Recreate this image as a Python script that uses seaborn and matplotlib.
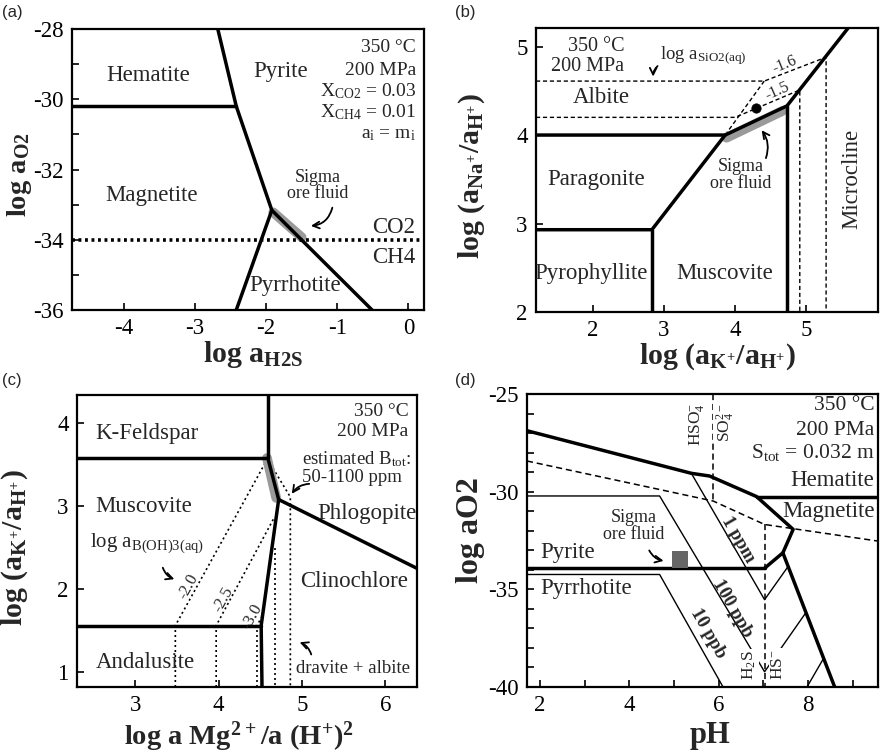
import matplotlib
matplotlib.use("Agg")
import matplotlib.pyplot as plt
from matplotlib.ticker import MultipleLocator
import seaborn as sns

# ---------------- data ----------------
# (a) log aO2 vs log aH2S
a_xlim = (-4.73, 0.22)
a_ylim = (-36.0, -28.0)
a_xticks = [-4, -3, -2, -1, 0]
a_yticks = [-36, -34, -32, -30, -28]
a_hem_x = [-4.73, -2.42]
a_hem_y = [-30.2, -30.2]
a_py_x = [-2.68, -2.42, -1.92, -0.51]
a_py_y = [-28.0, -30.2, -33.16, -36.0]
a_po_x = [-1.92, -2.42]
a_po_y = [-33.16, -36.0]
a_redox_x = [-4.73, 0.22]
a_redox_y = [-34.0, -34.0]
a_sigma_x = [-1.90, -1.50]
a_sigma_y = [-33.22, -33.93]

# (b) log(aNa+/aH+) vs log(aK+/aH+)
b_xlim = (1.2, 6.01)
b_ylim = (2.0, 5.21)
b_xticks = [2, 3, 4, 5]
b_yticks = [2, 3, 4, 5]
b_ab_x = [1.2, 3.86, 4.73, 5.59]
b_ab_y = [4.0, 4.0, 4.33, 5.21]
b_pg_x = [1.2, 2.83, 3.86]
b_pg_y = [2.93, 2.93, 4.0]
b_prl_x = [2.83, 2.83]
b_prl_y = [2.0, 2.93]
b_mc_x = [4.73, 4.73]
b_mc_y = [2.0, 4.33]
b_si16_x = [1.2, 4.41, 5.28, 5.28]
b_si16_y = [4.61, 4.61, 4.88, 2.0]
b_si15_x = [1.2, 4.0, 4.91, 4.91]
b_si15_y = [4.20, 4.20, 4.51, 2.0]
b_abpg_x = [3.86, 4.41]
b_abpg_y = [4.0, 4.61]
b_sigma_x = [3.88, 4.66]
b_sigma_y = [3.97, 4.27]
b_dot_x = [4.30]
b_dot_y = [4.31]

# (c) log(aK+/aH+) vs log aMg2+/a(H+)2
c_xlim = (2.30, 6.38)
c_ylim = (0.82, 4.34)
c_xticks = [3, 4, 5, 6]
c_yticks = [1, 2, 3, 4]
c_kfs_x = [2.30, 4.59, 4.59]
c_kfs_y = [3.58, 3.58, 4.34]
c_phl_x = [4.59, 4.72, 6.38]
c_phl_y = [3.58, 3.08, 2.25]
c_chl_x = [4.72, 4.51, 4.52]
c_chl_y = [3.08, 1.56, 0.82]
c_and_x = [2.30, 4.51]
c_and_y = [1.56, 1.56]
c_b20_x = [3.48, 3.48, 4.58]
c_b20_y = [0.82, 1.56, 3.56]
c_b25_x = [3.97, 3.97, 4.66]
c_b25_y = [0.82, 1.56, 2.85]
c_b30_x = [4.46, 4.46, 4.53]
c_b30_y = [0.82, 1.56, 1.69]
c_drv1_x = [4.68, 4.68]
c_drv1_y = [2.50, 0.82]
c_drv2_x = [4.62, 4.86, 4.86]
c_drv2_y = [3.51, 3.11, 0.82]
c_sigma_x = [4.58, 4.69]
c_sigma_y = [3.58, 3.10]

# (d) log aO2 vs pH
d_xlim = (1.71, 9.57)
d_ylim = (-40.0, -25.0)
d_xticks = [2, 4, 6, 8]
d_yticks = [-40, -35, -30, -25]
d_upper_x = [1.71, 5.39, 5.80, 6.85, 7.67, 7.44, 7.03]
d_upper_y = [-26.88, -29.06, -29.20, -30.25, -31.93, -33.13, -33.92]
d_hem_x = [6.85, 9.57]
d_hem_y = [-30.25, -30.25]
d_pypo_x = [1.71, 7.03]
d_pypo_y = [-33.92, -33.92]
d_pomag_x = [7.44, 8.60]
d_pomag_y = [-33.13, -40.0]
d_1ppm_x = [5.39, 7.03, 7.56]
d_1ppm_y = [-29.06, -35.53, -33.82]
d_100ppb_x = [1.71, 4.68, 7.03, 7.95]
d_100ppb_y = [-30.22, -30.22, -39.22, -36.21]
d_10ppb_x = [1.71, 4.68, 6.10]
d_10ppb_y = [-34.24, -34.24, -40.0]
d_10ppb_hs_x = [7.98, 8.36]
d_10ppb_hs_y = [-40.0, -38.5]
d_sulf_x = [1.71, 5.88, 7.03, 9.57]
d_sulf_y = [-28.43, -30.48, -31.68, -32.53]
d_hso4_x = [5.88, 5.88]
d_hso4_y = [-25.0, -30.48]
d_h2s_x = [7.03, 7.03]
d_h2s_y = [-31.68, -40.0]
d_sigma_x = [4.96, 5.32]
d_sigma_lo = [-33.90, -33.90]
d_sigma_hi = [-33.05, -33.05]

# ---------------- style ----------------
sns.set_theme(style="ticks")
SERIF = ["Liberation Serif", "DejaVu Serif"]
plt.rcParams["font.family"] = SERIF
plt.rcParams["mathtext.default"] = "regular"
plt.rcParams["axes.unicode_minus"] = False
plt.rcParams["axes.linewidth"] = 1.6
plt.rcParams["axes.edgecolor"] = "black"

TICK = 16.5
LAB = 16.5
INFO = 14
SIG = 13
SMALL = 13.5
AXL = 21.5
THICK = 2.5
THIN = 1.0


def line(ax, xs, ys, lw=THICK, ls="-", color="black", z=3):
    sns.lineplot(x=xs, y=ys, sort=False, estimator=None, color=color,
                 lw=lw, linestyle=ls, ax=ax, zorder=z)


def arrow(ax, tail, head, rad):
    ax.annotate("", xy=head, xytext=tail,
                arrowprops=dict(arrowstyle="->", color="black", lw=1.3,
                                mutation_scale=12,
                                connectionstyle=f"arc3,rad={rad}"))


def frame(ax, xlim, ylim, xt, yt):
    ax.set_xlim(*xlim)
    ax.set_ylim(*ylim)
    ax.set_xticks(xt, labels=[str(v) for v in xt], fontfamily=SERIF,
                  fontsize=TICK)
    ax.set_yticks(yt, labels=[str(v) for v in yt], fontfamily=SERIF,
                  fontsize=TICK)
    ax.tick_params(which="both", direction="in", length=5, width=1.2,
                   colors="black", pad=6)
    for s in ax.spines.values():
        s.set_visible(True)
        s.set_linewidth(1.6)


W, H = 880, 754
fig = plt.figure(figsize=(W / 100, H / 100), dpi=100)


def add_ax(l, r, t, b):
    return fig.add_axes([l / W, 1 - b / H, (r - l) / W, (b - t) / H])


ax_a = add_ax(72, 424, 29, 310)
ax_b = add_ax(536, 878, 28, 312)
ax_c = add_ax(77, 417, 395, 687)
ax_d = add_ax(527, 878, 394, 687)

# ---------------- (a) ----------------
ax = ax_a
line(ax, a_sigma_x, a_sigma_y, lw=7, color="#9a9a9a", z=2)
line(ax, a_hem_x, a_hem_y)
line(ax, a_py_x, a_py_y)
line(ax, a_po_x, a_po_y)
line(ax, a_redox_x, a_redox_y, lw=2.6, ls=(0, (0.8, 1.0)))
frame(ax, a_xlim, a_ylim, a_xticks, a_yticks)
ax.yaxis.set_minor_locator(MultipleLocator(1))
ax.text(-3.66, -29.31, "Hematite", fontsize=LAB, ha="center", va="center")
ax.text(-1.80, -29.22, "Pyrite", fontsize=LAB, ha="center", va="center")
ax.text(-3.61, -32.73, "Magnetite", fontsize=LAB, ha="center", va="center")
ax.text(-1.59, -35.29, "Pyrrhotite", fontsize=LAB, ha="center", va="center")
ax.text(-0.21, -33.64, "CO2", fontsize=LAB, ha="center", va="center")
ax.text(-0.21, -34.50, "CH4", fontsize=LAB, ha="center", va="center")
ax.text(-1.28, -32.45, "Sigma\nore fluid", fontsize=SIG, ha="center",
        va="center", linespacing=0.95)
for yy, s in zip([-28.54, -29.17, -29.76, -30.38, -31.0],
                 ["350 °C", "200 MPa", "X$_{CO2}$ = 0.03",
                  "X$_{CH4}$ = 0.01", "a$_{i}$ = m$_{i}$"]):
    ax.text(0.11, yy, s, fontsize=INFO, ha="right", va="center")
arrow(ax, (-1.06, -33.01), (-1.41, -33.61), -0.4)
ax.set_xlabel("log a$_{H2S}$", fontsize=AXL, fontweight="bold", va="center")
ax.set_ylabel("log a$_{O2}$", fontsize=AXL - 1, fontweight="bold",
              va="center")
ax.xaxis.set_label_coords(0.514, -0.16)
ax.yaxis.set_label_coords(-0.15, 0.48)

# ---------------- (b) ----------------
ax = ax_b
dash_b = (0, (3, 2))
line(ax, b_si16_x, b_si16_y, lw=THIN, ls=dash_b, z=2)
line(ax, b_si15_x, b_si15_y, lw=THIN, ls=dash_b, z=2)
line(ax, b_abpg_x, b_abpg_y, lw=THIN, ls=dash_b, z=2)
line(ax, b_sigma_x, b_sigma_y, lw=7, color="#9a9a9a", z=2)
line(ax, b_ab_x, b_ab_y)
line(ax, b_pg_x, b_pg_y)
line(ax, b_prl_x, b_prl_y)
line(ax, b_mc_x, b_mc_y)
sns.scatterplot(x=b_dot_x, y=b_dot_y, color="black", s=45, ax=ax, zorder=4,
                edgecolor="black")
frame(ax, b_xlim, b_ylim, b_xticks, b_yticks)
ax.text(2.05, 5.0, "350 °C", fontsize=INFO + 0.5, ha="center", va="center")
ax.text(1.93, 4.78, "200 MPa", fontsize=INFO + 0.5, ha="center", va="center")
ax.text(2.12, 4.42, "Albite", fontsize=LAB, ha="center", va="center")
ax.text(2.05, 3.50, "Paragonite", fontsize=LAB, ha="center", va="center")
ax.text(1.98, 2.43, "Pyrophyllite", fontsize=LAB, ha="center", va="center")
ax.text(3.86, 2.43, "Muscovite", fontsize=LAB, ha="center", va="center")
ax.text(5.64, 3.50, "Microcline", fontsize=LAB, ha="center", va="center",
        rotation=90)
ax.text(4.08, 3.55, "Sigma\nore fluid", fontsize=SIG, ha="center",
        va="center", linespacing=0.95)
ax.text(3.55, 4.89, "log a$_{SiO2(aq)}$", fontsize=SMALL, ha="center",
        va="center")
ax.text(4.70, 4.80, "-1.6", fontsize=SMALL - 2, ha="center", va="center",
        rotation=22)
ax.text(4.59, 4.49, "-1.5", fontsize=SMALL - 2, ha="center", va="center",
        rotation=24)
arrow(ax, (2.94, 4.80), (2.85, 4.63), 0.3)
arrow(ax, (4.42, 3.71), (4.35, 4.08), 0.3)
ax.set_xlabel("log (a$_{K^{+}}$/a$_{H^{+}}$)", fontsize=AXL,
              fontweight="bold", va="center")
ax.set_ylabel("log (a$_{Na^{+}}$/a$_{H^{+}}$)", fontsize=AXL,
              fontweight="bold", va="center")
ax.xaxis.set_label_coords(0.53, -0.158)
ax.yaxis.set_label_coords(-0.187, 0.48)

# ---------------- (c) ----------------
ax = ax_c
dot_c = (0, (1.2, 1.8))
for xs, ys in [(c_b20_x, c_b20_y), (c_b25_x, c_b25_y), (c_b30_x, c_b30_y),
               (c_drv1_x, c_drv1_y), (c_drv2_x, c_drv2_y)]:
    line(ax, xs, ys, lw=1.2, ls=dot_c, z=2)
line(ax, c_sigma_x, c_sigma_y, lw=7, color="#9a9a9a", z=2)
line(ax, c_kfs_x, c_kfs_y)
line(ax, c_phl_x, c_phl_y)
line(ax, c_chl_x, c_chl_y)
line(ax, c_and_x, c_and_y)
frame(ax, c_xlim, c_ylim, c_xticks, c_yticks)
ax.text(3.14, 3.88, "K-Feldspar", fontsize=LAB, ha="center", va="center")
ax.text(3.10, 2.99, "Muscovite", fontsize=LAB, ha="center", va="center")
ax.text(5.78, 2.91, "Phlogopite", fontsize=LAB, ha="center", va="center")
ax.text(5.62, 2.09, "Clinochlore", fontsize=LAB, ha="center", va="center")
ax.text(3.12, 1.12, "Andalusite", fontsize=LAB, ha="center", va="center")
ax.text(6.28, 4.14, "350 °C", fontsize=INFO, ha="right", va="center")
ax.text(6.28, 3.90, "200 MPa", fontsize=INFO, ha="right", va="center")
ax.text(5.0, 3.57, "estimated B$_{tot}$:", fontsize=SMALL, ha="left",
        va="center")
ax.text(5.0, 3.35, "50-1100 ppm", fontsize=SMALL, ha="left", va="center")
ax.text(3.14, 2.55, "log a$_{B(OH)3(aq)}$", fontsize=SMALL + 1.5,
        ha="center", va="center")
ax.text(5.61, 1.04, "dravite + albite", fontsize=SMALL, ha="center",
        va="center")
for xx, yy, s in [(3.64, 2.03, "-2.0"), (4.06, 1.87, "-2.5"),
                  (4.40, 1.67, "-3.0")]:
    ax.text(xx, yy, s, fontsize=SMALL - 1.5, ha="center", va="center",
            rotation=61)
arrow(ax, (5.12, 3.27), (4.86, 3.12), 0.3)
arrow(ax, (3.32, 2.29), (3.50, 2.11), 0.3)
arrow(ax, (5.12, 1.18), (4.94, 1.37), 0.3)
ax.set_xlabel("log a Mg$^{2+}$/a (H$^{+}$)$^{2}$", fontsize=AXL - 1,
              fontweight="bold", va="center")
ax.set_ylabel("log (a$_{K^{+}}$/a$_{H^{+}}$)", fontsize=AXL,
              fontweight="bold", va="center")
ax.xaxis.set_label_coords(0.476, -0.171)
ax.yaxis.set_label_coords(-0.182, 0.478)

# ---------------- (d) ----------------
ax = ax_d
dash_d = (0, (4, 2.5))
for xs, ys in [(d_sulf_x, d_sulf_y), (d_hso4_x, d_hso4_y),
               (d_h2s_x, d_h2s_y)]:
    line(ax, xs, ys, lw=1.1, ls=dash_d, z=2)
for xs, ys in [(d_1ppm_x, d_1ppm_y), (d_100ppb_x, d_100ppb_y),
               (d_10ppb_x, d_10ppb_y), (d_10ppb_hs_x, d_10ppb_hs_y)]:
    line(ax, xs, ys, lw=THIN, z=2)
line(ax, d_upper_x, d_upper_y)
line(ax, d_hem_x, d_hem_y)
line(ax, d_pypo_x, d_pypo_y)
line(ax, d_pomag_x, d_pomag_y)
ax.fill_between(d_sigma_x, d_sigma_lo, d_sigma_hi, color="#666666", lw=0,
                zorder=4)
frame(ax, d_xlim, d_ylim, d_xticks, d_yticks)
ax.xaxis.set_minor_locator(MultipleLocator(1))
ax.yaxis.set_minor_locator(MultipleLocator(1))
wbox = dict(facecolor="white", edgecolor="none", pad=1.0)
ax.text(9.49, -25.6, "350 °C", fontsize=INFO + 1.5, ha="right", va="center")
ax.text(9.49, -26.88, "200 PMa", fontsize=INFO + 1.5, ha="right",
        va="center")
ax.text(9.49, -28.0, "S$_{tot}$ = 0.032 m", fontsize=INFO + 1.5, ha="right",
        va="center")
ax.text(9.49, -29.45, "Hematite", fontsize=LAB, ha="right", va="center")
ax.text(9.49, -31.0, "Magnetite", fontsize=LAB, ha="right", va="center")
ax.text(2.63, -33.13, "Pyrite", fontsize=LAB, ha="center", va="center")
ax.text(3.04, -34.98, "Pyrrhotite", fontsize=LAB, ha="center", va="center")
ax.text(4.09, -31.76, "Sigma\nore fluid", fontsize=SIG, ha="center",
        va="center", linespacing=0.95)
ax.text(5.51, -26.54, "HSO$_{4}^{-}$", fontsize=SMALL - 1, ha="center",
        va="center", rotation=90, bbox=wbox)
ax.text(6.16, -26.46, "SO$_{4}^{2-}$", fontsize=SMALL - 1, ha="center",
        va="center", rotation=90, bbox=wbox)
ax.text(6.68, -38.87, "H$_{2}$S", fontsize=SMALL - 1, ha="center",
        va="center", rotation=90, bbox=wbox)
ax.text(7.33, -38.87, "HS$^{-}$", fontsize=SMALL - 1, ha="center",
        va="center", rotation=90, bbox=wbox)
for xx, yy, s in [(6.44, -32.45, "1 ppm"), (6.31, -35.96, "100 ppb"),
                  (5.77, -37.24, "10 ppb")]:
    ax.text(xx, yy, s, fontsize=SMALL, fontweight="bold", ha="center",
            va="center", rotation=-60)
arrow(ax, (4.42, -32.88), (4.83, -33.56), 0.3)
ax.set_xlabel("pH", fontsize=AXL + 0.5, fontweight="bold", va="center")
ax.set_ylabel("log aO2", fontsize=AXL + 1.5, fontweight="bold", va="center")
ax.xaxis.set_label_coords(0.52, -0.164)
ax.yaxis.set_label_coords(-0.162, 0.536)

# panel letters
for x, y, s in [(2, 12, "(a)"), (455, 12, "(b)"), (2, 380, "(c)"),
                (455, 380, "(d)")]:
    fig.text(x / W, 1 - y / H, s, fontsize=12, family="Liberation Sans",
             ha="left", va="center")

fig.savefig("out.png", dpi=100, facecolor="white")
